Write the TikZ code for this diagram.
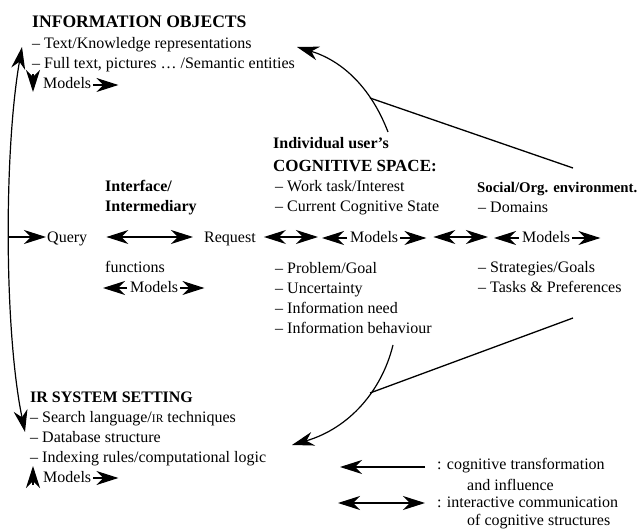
\documentclass[tikz,border=0pt]{standalone}
\usepackage{fontspec}
\setmainfont{Liberation Serif}
\usetikzlibrary{arrows.meta,calc}
\tikzset{
  mytip/.tip={Stealth[length=22pt,width=14pt,inset=7pt]}
}
\begin{document}
\begin{tikzpicture}[x=1pt,y=-1pt,
  txt/.style={anchor=base west,inner sep=0pt,font=\fontsize{16}{19}\selectfont},
  hd/.style={anchor=base west,inner sep=0pt,font=\fontsize{16}{19}\selectfont\bfseries},
  ar/.style={line width=1.2pt,-mytip},
  dar/.style={line width=1.2pt,mytip-mytip},
  ln/.style={line width=1.3pt}]
\useasboundingbox (0,0) rectangle (640,529);

% Information objects
\node[hd,font=\fontsize{17.6}{20}\selectfont\bfseries]  (io0) at (32,28) {INFORMATION OBJECTS};
\node[txt] (io1) at (32,49) {– Text/Knowledge representations};
\node[txt] (io2) at (32,69) {– Full text, pictures … /Semantic entities};
\node[txt] (io3) at (43,89) {Models};
\draw[ar] ($(io3.base west)+(-10pt,15pt)$) -- ($(io3.base west)+(-10pt,-3pt)$);
\draw[ar] ($(io3.base east)+(2pt,4pt)$) -- ++(25pt,0pt);

% Interface
\node[hd]  (ii1) at (105,192) {Interface/};
\node[hd]  (ii2) at (105,212) {Intermediary};
\node[txt] (q)   at (47,243) {Query};
\node[txt] (rq)  at (204,243) {Request};
\node[txt] (fn)  at (105,273) {functions};
\node[txt] (im)  at (130,293) {Models};
\draw[ar] ($(im.base west)+(-3pt,5pt)$) -- ++(-24pt,0pt);
\draw[ar] ($(im.base east)+(2pt,5pt)$) -- ++(24pt,0pt);

% Cognitive space
\node[hd]  (cs0) at (273,149) {Individual user's};
\node[hd,font=\fontsize{17}{20}\selectfont\bfseries]  (cs1) at (273,172) {COGNITIVE SPACE:};
\node[txt] (cs2) at (275,192) {– Work task/Interest};
\node[txt] (cs3) at (275,212) {– Current Cognitive State};
\node[txt] (cm)  at (350,243) {Models};
\draw[ar] ($(cm.base west)+(-3pt,5pt)$) -- ++(-25pt,0pt);
\draw[ar] ($(cm.base east)+(2pt,5pt)$) -- ++(26pt,0pt);
\node[txt] (cs4) at (275,274) {– Problem/Goal};
\node[txt] (cs5) at (275,294) {– Uncertainty};
\node[txt] (cs6) at (275,314) {– Information need};
\node[txt] (cs7) at (275,334) {– Information behaviour};

% Social
\node[hd,font=\fontsize{14.8}{18}\selectfont\bfseries]  (so0) at (477,193) {Social/Org. environment.};
\node[txt] (so1) at (478,213) {– Domains};
\node[txt] (sm)  at (522,243) {Models};
\draw[ar] ($(sm.base west)+(-3pt,5pt)$) -- ++(-25pt,0pt);
\draw[ar] ($(sm.base east)+(2pt,5pt)$) -- ++(28pt,0pt);
\node[txt] (so2) at (478,273) {– Strategies/Goals};
\node[txt] (so3) at (478,293) {– Tasks \& Preferences};

% middle row double arrows
\draw[dar] ($(q.base east)+(19pt,6pt)$) -- ($(rq.base west)+(-11pt,6pt)$);
\draw[dar] ($(rq.base east)+(8pt,6pt)$) -- ($(cm.base west)+(-32pt,6pt)$);
\draw[dar] ($(cm.base east)+(35pt,6pt)$) -- ($(sm.base west)+(-34pt,6pt)$);

% IR system
\node[hd]  (ir0) at (30,402) {IR SYSTEM SETTING};
\node[txt] (ir1) at (30,422) {– Search language/{\fontsize{11.5}{12}\selectfont IR} techniques};
\node[txt] (ir2) at (30,442) {– Database structure};
\node[txt] (ir3) at (30,462) {– Indexing rules/computational logic};
\node[txt] (ir4) at (43,482) {Models};
\draw[ar] ($(ir4.base west)+(-10pt,-3pt)$) -- ($(ir4.base west)+(-10pt,16pt)$);
\draw[ar] ($(ir4.base east)+(2pt,4pt)$) -- ++(25pt,0pt);

% left arc with query
\coordinate (ltop) at (22,47);
\coordinate (lbot) at (25,432);
\coordinate (lmid) at (9,237);
\draw[dar] (ltop) .. controls (4,150) and (4,330) .. (lbot);
\draw[ar] (lmid) -- ($(q.base west)+(-1pt,6pt)$);

% top influence
\coordinate (ts) at (388,132);
\coordinate (tj) at (370,98);
\coordinate (tt) at (297,47);
\coordinate (tr) at (573,168);
\draw[ar] (ts) .. controls (370,85) and (340,60) .. (tt);
\draw[ln] (tr) -- (tj);

% bottom influence
\coordinate (bs) at (393,345);
\coordinate (bj) at (370,393);
\coordinate (bt) at (292,445);
\coordinate (br) at (573,318);
\draw[ar] (bs) .. controls (382,390) and (350,428) .. (bt);
\draw[ln] (br) -- (bj);

% legend
\node[txt] (lg1) at (437,469) {: cognitive transformation};
\node[txt] (lg2) at (467,490) {and influence};
\node[txt] (lg3) at (437,507) {: interactive communication};
\node[txt] (lg4) at (467,525) {of cognitive structures};
\draw[ar] ($(lg1.base west)+(-12pt,2pt)$) -- ++(-85pt,0pt);
\draw[dar] ($(lg3.base west)+(-12pt,4pt)$) -- ++(-87pt,0pt);
\end{tikzpicture}
\end{document}
